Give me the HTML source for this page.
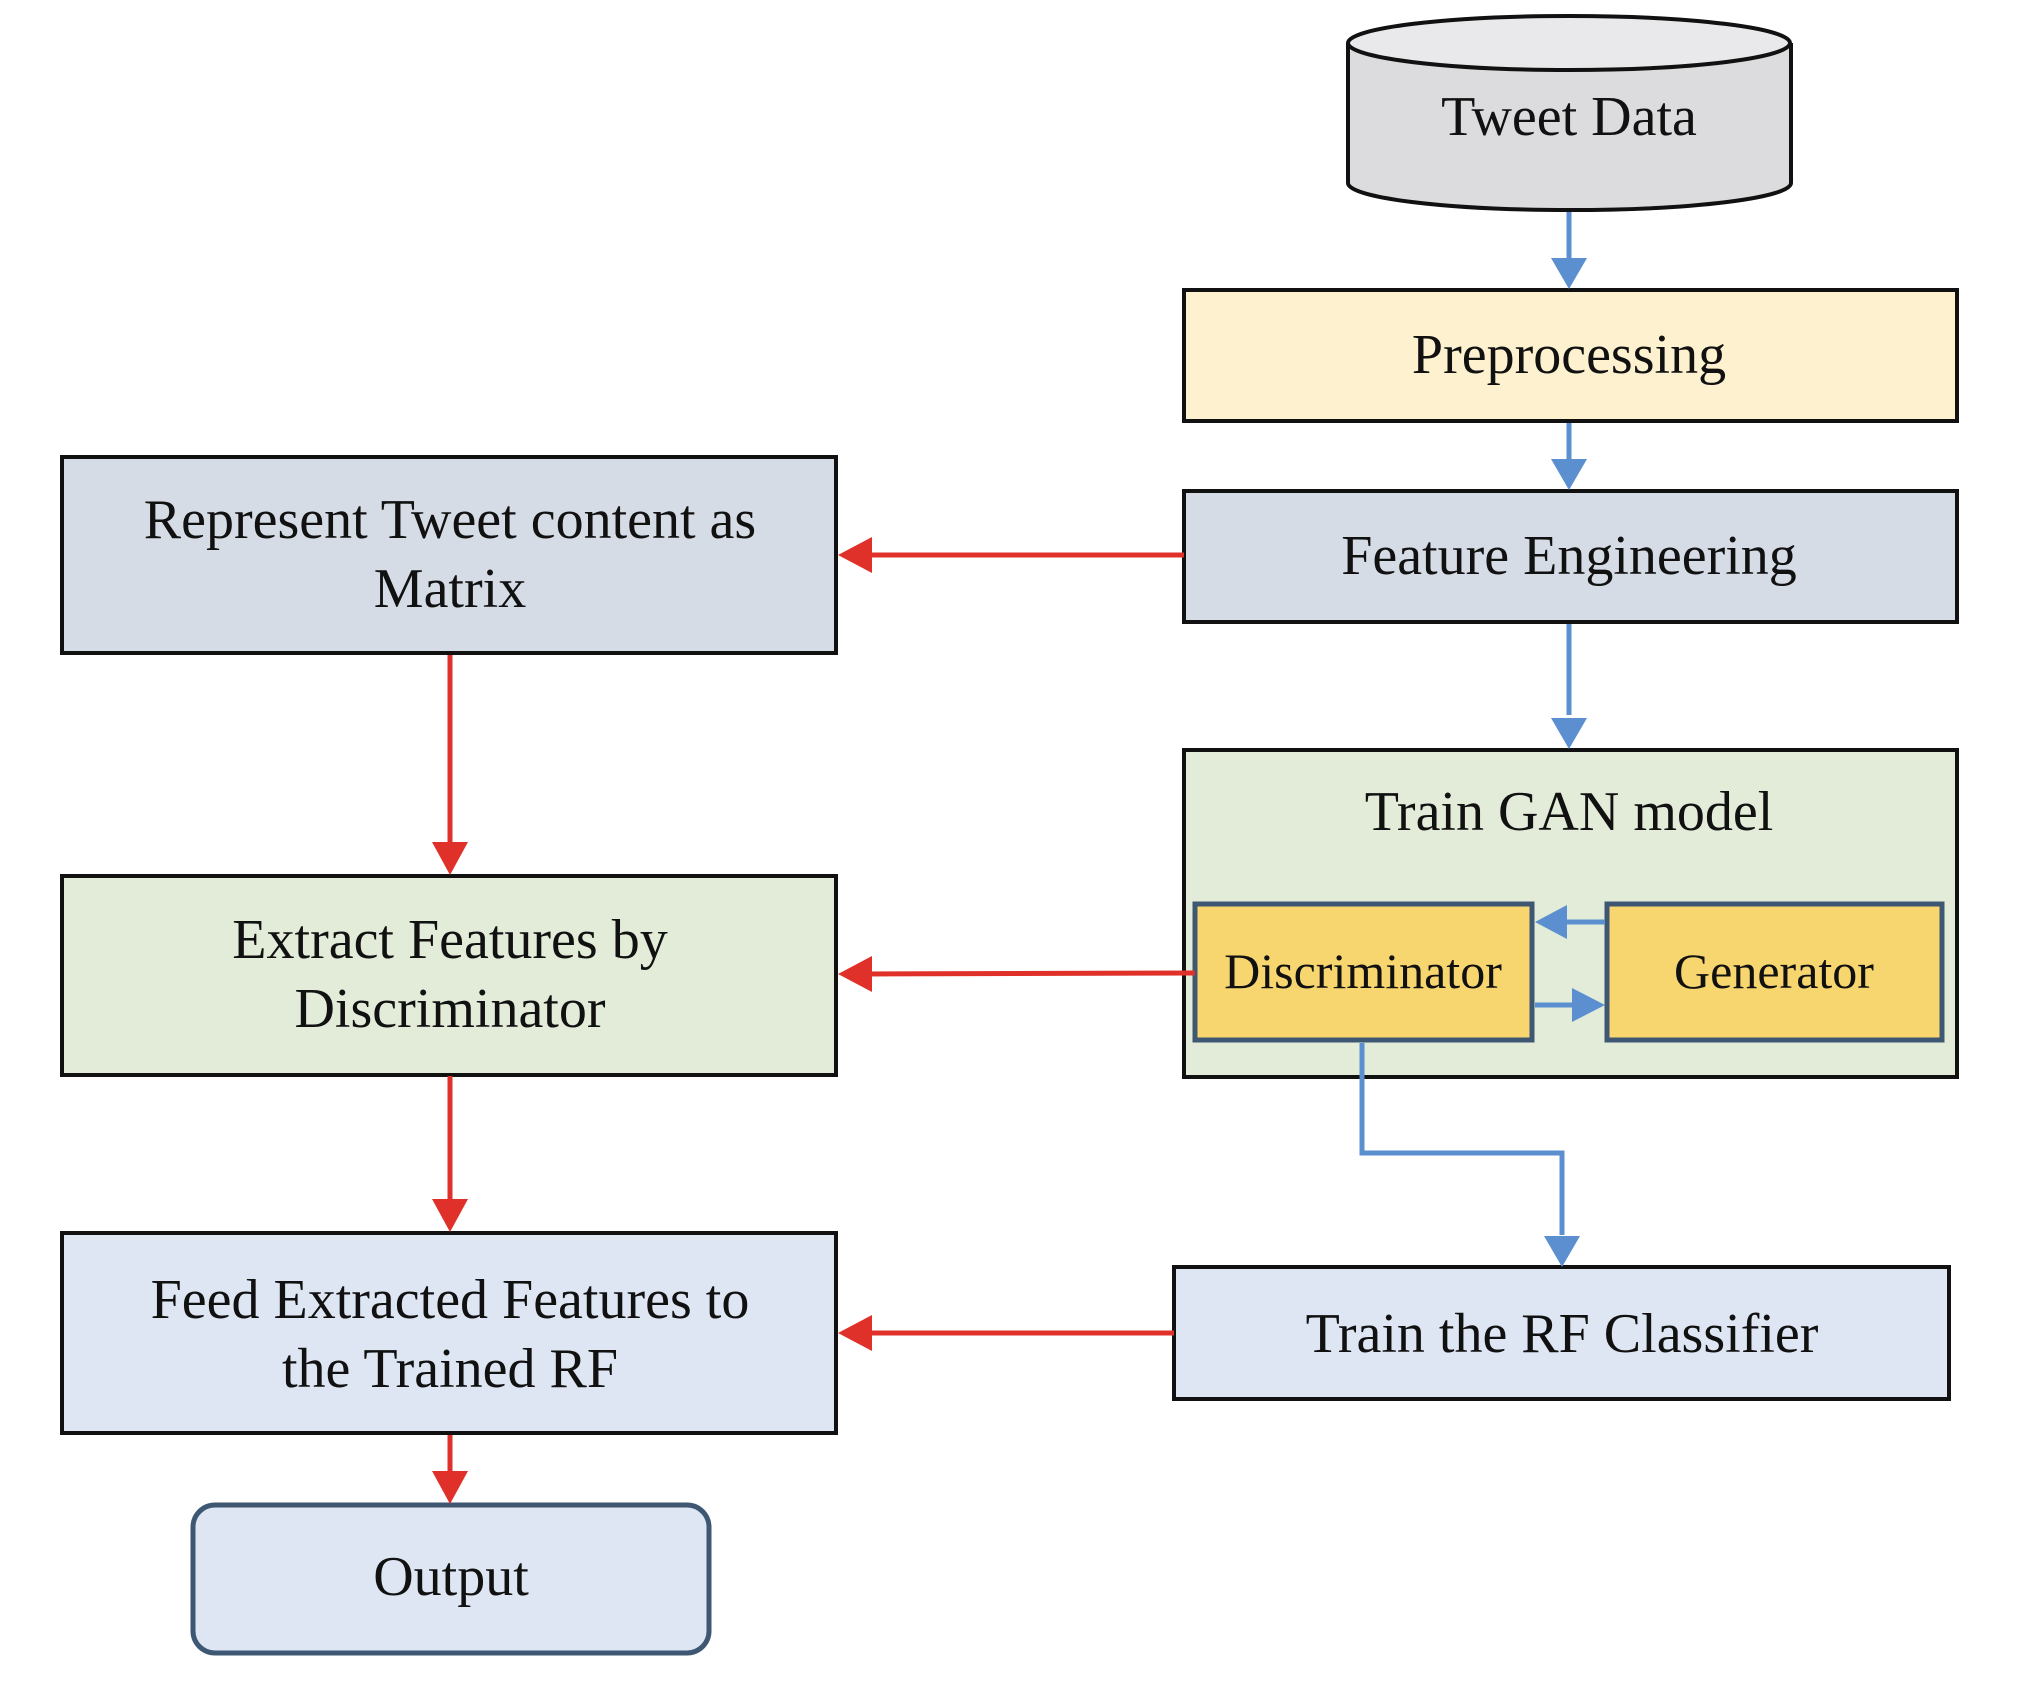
<!DOCTYPE html>
<html><head><meta charset="utf-8"><style>
html,body{margin:0;padding:0;background:#fff;}
svg{display:block;}
text{font-family:"Liberation Serif",serif;font-size:56px;fill:#111;text-anchor:middle;}
</style></head><body>
<svg width="2044" height="1684" viewBox="0 0 2044 1684" xmlns="http://www.w3.org/2000/svg">
<!-- Cylinder -->
<path d="M1348,43 L1348,183 A221,27 0 0 0 1791,183 L1791,43" fill="#dcdcde" stroke="#111" stroke-width="4"/>
<ellipse cx="1569" cy="43" rx="221" ry="27" fill="#e9e9eb" stroke="#111" stroke-width="4"/>
<text x="1569" y="135">Tweet Data</text>

<!-- Right column boxes -->
<rect x="1184" y="290" width="773" height="131" fill="#fdf1cf" stroke="#111" stroke-width="4"/>
<text x="1569" y="373">Preprocessing</text>
<rect x="1184" y="491" width="773" height="131" fill="#d6dce6" stroke="#111" stroke-width="4"/>
<text x="1569" y="574">Feature Engineering</text>
<rect x="1184" y="750" width="773" height="327" fill="#e2ecd9" stroke="#111" stroke-width="4"/>
<text x="1569" y="830">Train GAN model</text>
<rect x="1195" y="904" width="337" height="136" fill="#f8d66f" stroke="#3e5773" stroke-width="5"/>
<text x="1363" y="988" style="font-size:50px">Discriminator</text>
<rect x="1607" y="904" width="335" height="136" fill="#f8d66f" stroke="#3e5773" stroke-width="5"/>
<text x="1774" y="988" style="font-size:50px">Generator</text>
<rect x="1174" y="1267" width="775" height="132" fill="#dde6f2" stroke="#111" stroke-width="4"/>
<text x="1562" y="1352">Train the RF Classifier</text>

<!-- blue arrows -->
<g stroke="#5b8fd0" stroke-width="5" fill="none">
<line x1="1569" y1="212" x2="1569" y2="262"/>
<line x1="1569" y1="423" x2="1569" y2="462"/>
<line x1="1569" y1="624" x2="1569" y2="715"/>
<polyline points="1362,1043 1362,1153 1562,1153 1562,1235"/>
<line x1="1605" y1="922" x2="1565" y2="922"/>
<line x1="1535" y1="1005" x2="1572" y2="1005"/>
</g>
<g fill="#5b8fd0">
<path d="M1551,258 L1587,258 L1569,289 z"/>
<path d="M1551,459 L1587,459 L1569,490 z"/>
<path d="M1551,718 L1587,718 L1569,749 z"/>
<path d="M1544,1236 L1580,1236 L1562,1267 z"/>
<path d="M1535,922 L1567,905 L1567,939 z"/>
<path d="M1605,1005 L1572,988 L1572,1022 z"/>
</g>

<!-- Left column -->
<rect x="62" y="457" width="774" height="196" fill="#d6dce6" stroke="#111" stroke-width="4"/>
<text x="450" y="538">Represent Tweet content as</text>
<text x="450" y="607">Matrix</text>
<rect x="62" y="876" width="774" height="199" fill="#e2ecd9" stroke="#111" stroke-width="4"/>
<text x="450" y="958">Extract Features by</text>
<text x="450" y="1027">Discriminator</text>
<rect x="62" y="1233" width="774" height="200" fill="#dde6f2" stroke="#111" stroke-width="4"/>
<text x="450" y="1318">Feed Extracted Features to</text>
<text x="450" y="1387">the Trained RF</text>
<rect x="193" y="1505" width="516" height="148" rx="22" fill="#dde6f2" stroke="#3e5773" stroke-width="5"/>
<text x="451" y="1595">Output</text>

<!-- red arrows -->
<g stroke="#e0302a" stroke-width="5" fill="none">
<line x1="1184" y1="555" x2="868" y2="555"/>
<line x1="1195" y1="973" x2="868" y2="974"/>
<line x1="1174" y1="1333" x2="868" y2="1333"/>
<line x1="450" y1="655" x2="450" y2="845"/>
<line x1="450" y1="1076" x2="450" y2="1202"/>
<line x1="450" y1="1435" x2="450" y2="1474"/>
</g>
<g fill="#e0302a">
<path d="M838,555 L872,537 L872,573 z"/>
<path d="M838,974 L872,956 L872,992 z"/>
<path d="M838,1333 L872,1315 L872,1351 z"/>
<path d="M432,842 L468,842 L450,875 z"/>
<path d="M432,1199 L468,1199 L450,1232 z"/>
<path d="M432,1471 L468,1471 L450,1504 z"/>
</g>
</svg>
</body></html>
